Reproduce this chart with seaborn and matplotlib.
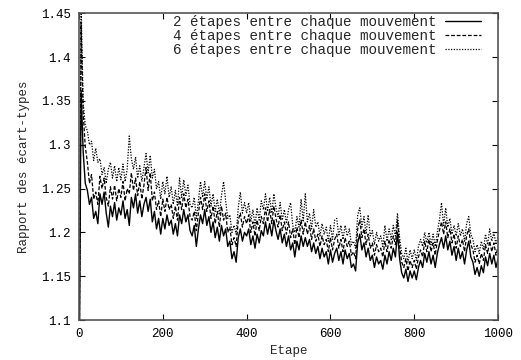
import matplotlib
matplotlib.use("Agg")
import matplotlib.pyplot as plt
from matplotlib.ticker import FuncFormatter
import seaborn as sns
import numpy as np

# steps 0, 5, 10, ..., 1000
steps = list(range(0, 1001, 5))

# 2 etapes entre chaque mouvement (solid)
r2 = [
    1.000, 1.362, 1.292, 1.256, 1.248, 1.232, 1.240, 1.216, 1.224, 1.210, 1.244, 1.232, 1.246, 1.222, 1.206, 1.230, 1.218, 1.234, 1.214, 1.228,
    1.220, 1.236, 1.216, 1.226, 1.208, 1.240, 1.228, 1.244, 1.222, 1.236, 1.218, 1.232, 1.240, 1.224, 1.238, 1.212, 1.224, 1.204, 1.216, 1.198,
    1.216, 1.204, 1.220, 1.208, 1.214, 1.198, 1.210, 1.196, 1.220, 1.210, 1.226, 1.212, 1.220, 1.202, 1.196, 1.208, 1.184, 1.204, 1.220, 1.210,
    1.226, 1.208, 1.218, 1.200, 1.212, 1.194, 1.206, 1.190, 1.208, 1.196, 1.204, 1.184, 1.190, 1.170, 1.178, 1.166, 1.194, 1.204, 1.190, 1.200,
    1.196, 1.204, 1.186, 1.196, 1.182, 1.198, 1.188, 1.202, 1.196, 1.212, 1.198, 1.210, 1.196, 1.214, 1.202, 1.192, 1.204, 1.188, 1.198, 1.184,
    1.196, 1.180, 1.188, 1.172, 1.190, 1.180, 1.196, 1.184, 1.194, 1.184, 1.192, 1.178, 1.188, 1.176, 1.184, 1.170, 1.182, 1.172, 1.178, 1.164,
    1.180, 1.166, 1.176, 1.182, 1.168, 1.178, 1.164, 1.180, 1.170, 1.176, 1.160, 1.164, 1.156, 1.188, 1.198, 1.180, 1.188, 1.172, 1.182, 1.168,
    1.174, 1.160, 1.172, 1.164, 1.168, 1.158, 1.174, 1.164, 1.178, 1.168, 1.182, 1.172, 1.200, 1.170, 1.154, 1.148, 1.158, 1.144, 1.156, 1.148,
    1.156, 1.146, 1.160, 1.168, 1.160, 1.176, 1.166, 1.178, 1.164, 1.174, 1.160, 1.176, 1.186, 1.194, 1.182, 1.196, 1.180, 1.190, 1.174, 1.184,
    1.168, 1.182, 1.170, 1.178, 1.164, 1.180, 1.190, 1.172, 1.166, 1.152, 1.160, 1.150, 1.162, 1.154, 1.172, 1.162, 1.176, 1.164, 1.174, 1.160,
    1.170,
]

# 4 etapes entre chaque mouvement (dashed)
r4 = [
    1.000, 1.440, 1.336, 1.298, 1.280, 1.256, 1.266, 1.238, 1.246, 1.232, 1.264, 1.250, 1.262, 1.240, 1.230, 1.252, 1.238, 1.254, 1.236, 1.250,
    1.240, 1.258, 1.236, 1.250, 1.244, 1.268, 1.248, 1.262, 1.242, 1.258, 1.238, 1.254, 1.274, 1.248, 1.268, 1.236, 1.246, 1.226, 1.236, 1.218,
    1.238, 1.224, 1.240, 1.226, 1.232, 1.216, 1.230, 1.214, 1.240, 1.226, 1.244, 1.228, 1.238, 1.218, 1.214, 1.224, 1.202, 1.222, 1.240, 1.226,
    1.244, 1.224, 1.236, 1.216, 1.230, 1.210, 1.224, 1.206, 1.230, 1.214, 1.222, 1.200, 1.206, 1.186, 1.194, 1.184, 1.214, 1.222, 1.206, 1.218,
    1.210, 1.220, 1.200, 1.212, 1.196, 1.214, 1.202, 1.218, 1.210, 1.228, 1.212, 1.226, 1.210, 1.230, 1.216, 1.206, 1.220, 1.202, 1.212, 1.198,
    1.212, 1.194, 1.204, 1.186, 1.206, 1.194, 1.214, 1.198, 1.212, 1.198, 1.208, 1.192, 1.204, 1.190, 1.198, 1.184, 1.196, 1.186, 1.192, 1.178,
    1.194, 1.180, 1.192, 1.198, 1.182, 1.192, 1.178, 1.194, 1.184, 1.190, 1.174, 1.178, 1.170, 1.204, 1.214, 1.194, 1.204, 1.186, 1.198, 1.182,
    1.188, 1.174, 1.186, 1.178, 1.182, 1.172, 1.190, 1.178, 1.192, 1.182, 1.196, 1.186, 1.214, 1.184, 1.166, 1.160, 1.170, 1.156, 1.168, 1.160,
    1.168, 1.158, 1.172, 1.180, 1.172, 1.190, 1.178, 1.192, 1.178, 1.188, 1.174, 1.190, 1.202, 1.212, 1.198, 1.212, 1.194, 1.204, 1.188, 1.198,
    1.182, 1.196, 1.184, 1.192, 1.178, 1.196, 1.204, 1.186, 1.180, 1.166, 1.174, 1.164, 1.176, 1.168, 1.186, 1.176, 1.190, 1.178, 1.188, 1.174,
    1.184,
]

# 6 etapes entre chaque mouvement (dotted)
r6 = [
    1.000, 1.460, 1.348, 1.322, 1.316, 1.300, 1.304, 1.282, 1.296, 1.280, 1.284, 1.266, 1.274, 1.256, 1.272, 1.280, 1.262, 1.276, 1.258, 1.274,
    1.260, 1.278, 1.258, 1.272, 1.310, 1.284, 1.272, 1.286, 1.262, 1.276, 1.258, 1.274, 1.290, 1.268, 1.288, 1.262, 1.272, 1.250, 1.258, 1.238,
    1.258, 1.244, 1.264, 1.240, 1.252, 1.232, 1.248, 1.230, 1.262, 1.240, 1.260, 1.242, 1.254, 1.232, 1.228, 1.240, 1.216, 1.236, 1.258, 1.240,
    1.258, 1.238, 1.252, 1.230, 1.244, 1.224, 1.238, 1.220, 1.242, 1.258, 1.236, 1.216, 1.220, 1.200, 1.208, 1.198, 1.228, 1.246, 1.222, 1.234,
    1.222, 1.234, 1.212, 1.226, 1.208, 1.228, 1.214, 1.236, 1.226, 1.244, 1.224, 1.240, 1.222, 1.244, 1.228, 1.218, 1.234, 1.214, 1.226, 1.210,
    1.226, 1.234, 1.208, 1.200, 1.218, 1.206, 1.238, 1.212, 1.244, 1.212, 1.222, 1.204, 1.226, 1.206, 1.212, 1.196, 1.210, 1.198, 1.206, 1.190,
    1.208, 1.192, 1.214, 1.216, 1.196, 1.208, 1.192, 1.208, 1.196, 1.204, 1.186, 1.190, 1.182, 1.220, 1.228, 1.206, 1.218, 1.198, 1.220, 1.196,
    1.202, 1.186, 1.200, 1.190, 1.196, 1.184, 1.208, 1.190, 1.204, 1.192, 1.208, 1.196, 1.222, 1.194, 1.176, 1.170, 1.182, 1.166, 1.180, 1.170,
    1.180, 1.168, 1.184, 1.192, 1.184, 1.200, 1.188, 1.200, 1.186, 1.198, 1.184, 1.200, 1.214, 1.234, 1.208, 1.228, 1.206, 1.216, 1.198, 1.208,
    1.196, 1.210, 1.196, 1.204, 1.190, 1.210, 1.218, 1.198, 1.192, 1.178, 1.186, 1.176, 1.190, 1.180, 1.198, 1.186, 1.204, 1.190, 1.200, 1.186,
    1.196,
]

labels = ["2 étapes entre chaque mouvement",
          "4 étapes entre chaque mouvement",
          "6 étapes entre chaque mouvement"]

sns.set_style("ticks")
plt.rcParams['font.family'] = ['Liberation Mono', 'DejaVu Sans Mono']
plt.rcParams['font.size'] = 9

fig = plt.figure(figsize=(5.21, 3.6), dpi=100)
ax = fig.add_axes([0.1516, 0.111, 0.8044, 0.852])

sns.lineplot(x=steps, y=r2, ax=ax, color='black', lw=1.0, label=labels[0])
sns.lineplot(x=steps, y=r4, ax=ax, color='black', lw=0.9, linestyle=(0, (3, 1.5)), label=labels[1])
sns.lineplot(x=steps, y=r6, ax=ax, color='black', lw=0.9, linestyle=(0, (1, 1.2)), label=labels[2])

ax.set_xlim(0, 1000)
ax.set_ylim(1.1, 1.45)
ax.set_xticks(np.arange(0, 1001, 200))
ax.set_yticks(np.arange(1.1, 1.451, 0.05))
ax.yaxis.set_major_formatter(FuncFormatter(lambda v, p: '%g' % round(v, 2)))
ax.tick_params(direction='in', length=4, width=0.8, top=True, right=True,
               labelsize=9, colors='black', pad=6)
for s in ax.spines.values():
    s.set_visible(True)
    s.set_linewidth(1.2)
    s.set_color('#555555')

ax.set_xlabel("Etape", fontsize=9, labelpad=3)
ax.set_ylabel("Rapport des écart-types", fontsize=9, labelpad=8)

leg = ax.legend(loc='upper right', bbox_to_anchor=(0.964, 1.0), frameon=False,
                markerfirst=False, handlelength=2.5, handletextpad=0.63,
                labelspacing=0.0, borderaxespad=0.0, borderpad=0.15,
                fontsize=10.3)

fig.savefig("out.png", dpi=100)
